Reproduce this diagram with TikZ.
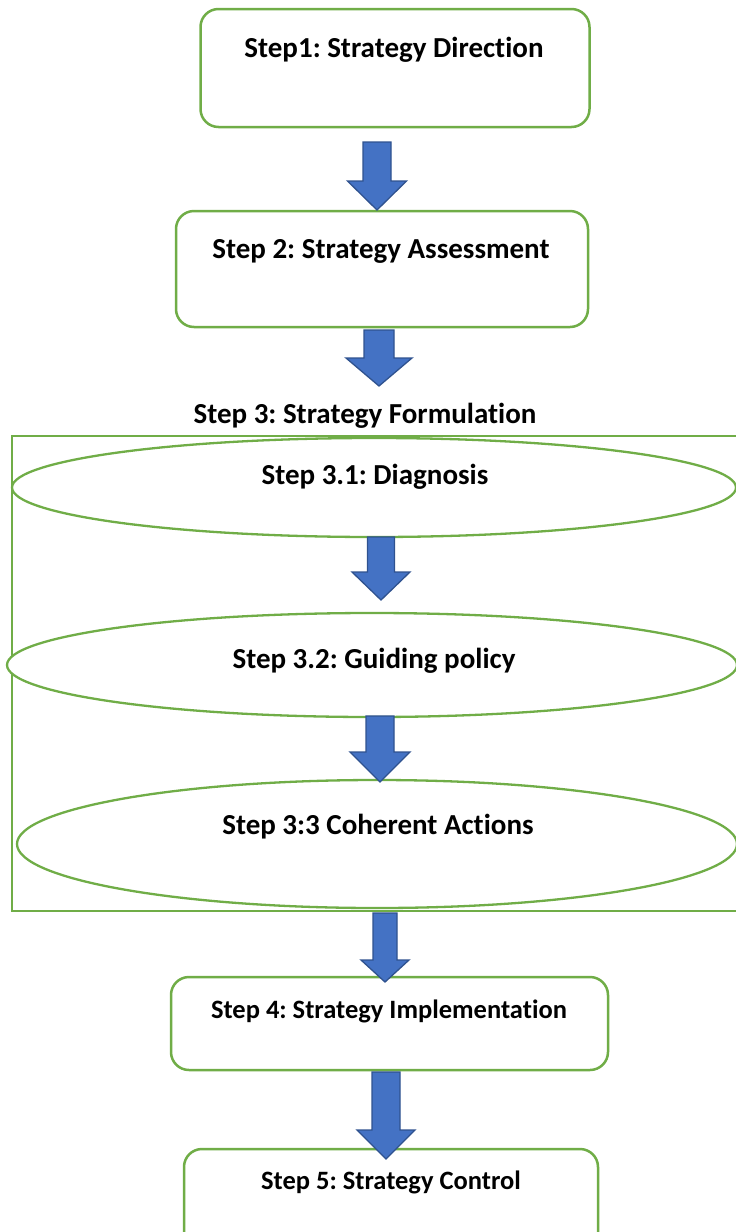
\documentclass[tikz,border=0pt]{standalone}
\usepackage{fontspec}
\setmainfont{Carlito}[Ligatures={NoCommon,NoContextual,NoRare}]
\usetikzlibrary{shapes.geometric}
\frenchspacing

\definecolor{stepgreen}{HTML}{70AD47}
\definecolor{arrowblue}{HTML}{4472C4}
\definecolor{arrowedge}{HTML}{2F528F}

% keeps "t" and "i" apart
\newcommand{\tsep}{\kern0pt}

% block arrow pointing down: centre x, top y, head start y, tip y, half shaft, half head
\newcommand{\downblock}[6]{%
  \filldraw[blockarrow] ({#1-#5},#2) -- ({#1+#5},#2) -- ({#1+#5},#3) -- ({#1+#6},#3)
    -- (#1,#4) -- ({#1-#6},#3) -- ({#1-#5},#3) -- cycle;}

\tikzset{
  stepbox/.style={draw=stepgreen, line width=2.5pt, rounded corners=18pt, fill=white,
    inner sep=0pt},
  phase/.style={ellipse, draw=stepgreen, line width=2.3pt, fill=white, inner sep=0pt},
  frame/.style={draw=stepgreen, line width=2pt},
  steptext/.style={font=\bfseries\fontsize{29}{34}\selectfont, inner sep=0pt},
  smalltext/.style={font=\bfseries\fontsize{26.5}{32}\selectfont, inner sep=0pt},
  blockarrow/.style={fill=arrowblue, draw=arrowedge, line width=1.3pt, line join=miter},
}

\begin{document}
\begin{tikzpicture}[x=1pt,y=-1pt]
  \useasboundingbox (0,0) rectangle (736,1232);
  \clip (0,0) rectangle (736,1232);

  % Step 1 and Step 2
  \node[stepbox, minimum width=389, minimum height=118] (s1) at (395,68) {};
  \node[steptext] (t1) at (394,50) {Step1: Strategy Direction};

  \node[stepbox, minimum width=412, minimum height=116] (s2) at (382,269) {};
  \node[steptext] (t2) at (381,251) {Step 2: Strategy Assessment};

  % Step 3: formulation frame with its three sub-steps
  \node[steptext] (t3) at (365,416) {Step 3: Strategy Formulat\tsep ion};
  \draw[frame] (12,436) rectangle (745,911);

  \node[phase, minimum width=724, minimum height=99] (e1) at (374,487.5) {};
  \node[steptext] (t31) at (375,477) {Step 3.1: Diagnosis};

  \node[phase, minimum width=730, minimum height=104] (e2) at (372,665) {};
  \node[steptext] (t32) at (374,661) {Step 3.2: Guiding policy};

  \node[phase, minimum width=720, minimum height=128] (e3) at (377,844) {};
  \node[steptext] (t33) at (378,827) {Step 3:3 Coherent Act\tsep ions};

  % Step 4 and Step 5
  \node[stepbox, minimum width=437, minimum height=93] (s4) at (389.5,1023.5) {};
  \node[smalltext] (t4) at (389,1011) {Step 4: Strategy Implementat\tsep ion};

  \node[stepbox, minimum width=414, minimum height=118] (s5) at (391,1208) {};
  \node[smalltext] (t5) at (391,1182) {Step 5: Strategy Control};

  % block arrows between the steps, drawn on top of the outlines
  \downblock{377}{142}{181}{210}{14}{29.5}
  \downblock{379}{330}{358}{386}{15}{33}
  \downblock{381}{537}{572}{600}{13.5}{29}
  \downblock{380}{716}{752}{782}{14}{30}
  \downblock{385}{913}{960}{982}{12}{24}
  \downblock{386}{1072}{1130}{1159}{14}{29}
\end{tikzpicture}
\end{document}
